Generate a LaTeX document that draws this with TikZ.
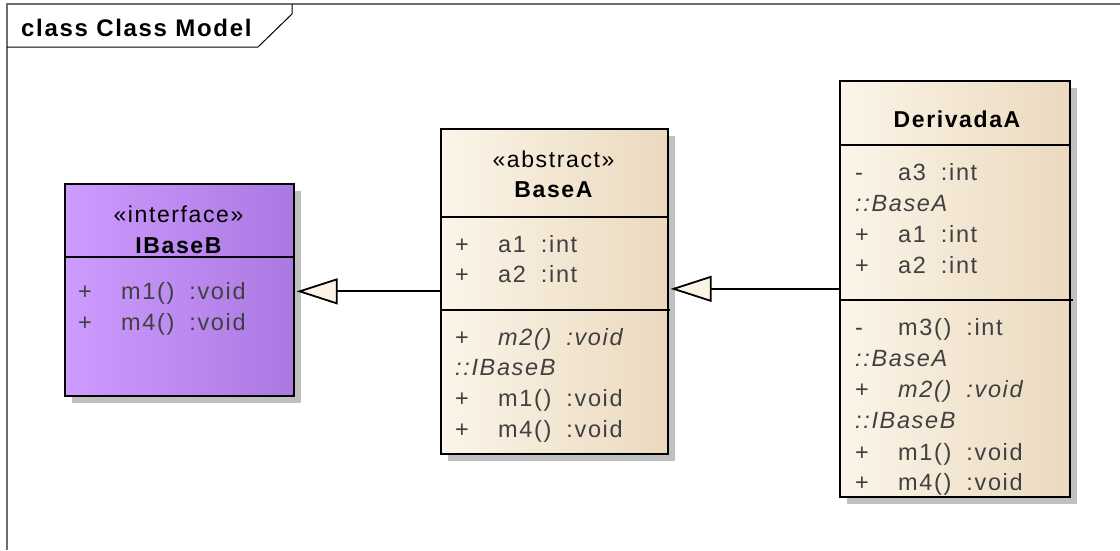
\documentclass[tikz,border=0pt]{standalone}
\usepackage{fontspec}
\setmainfont{Liberation Sans}[LetterSpace=7]
\usetikzlibrary{arrows.meta,shadows}

\definecolor{framegray}{RGB}{110,110,110}
\definecolor{shadowgray}{RGB}{192,192,192}
\definecolor{memgray}{RGB}{64,64,64}
\definecolor{violetL}{RGB}{206,156,255}
\definecolor{violetR}{RGB}{170,120,225}
\definecolor{creamL}{RGB}{252,245,233}
\definecolor{creamR}{RGB}{234,217,190}
\definecolor{tipfill}{RGB}{251,243,230}

\tikzset{
  umlclass/.style={draw=black, line width=1.7pt, inner sep=0pt, anchor=north west,
    drop shadow={shadow xshift=7pt, shadow yshift=-7pt, fill=shadowgray, opacity=1}},
  ifacebox/.style={umlclass, left color=violetL, middle color=violetL!85!violetR, right color=violetR},
  classbox/.style={umlclass, left color=creamL, middle color=creamL!80!creamR, right color=creamR},
  compline/.style={draw=black, line width=1.7pt},
  stereo/.style={anchor=base, inner sep=0pt, text=black, font=\fontsize{23}{23}\selectfont},
  cname/.style={anchor=base, inner sep=0pt, text=black, font=\fontsize{23}{23}\selectfont\bfseries},
  member/.style={anchor=base west, inner sep=0pt, text=memgray, font=\fontsize{23.5}{23.5}\selectfont},
  generalization/.style={draw=black, line width=1.8pt,
    -{Triangle[open, fill=tipfill, length=41pt, width=26pt]}, shorten >=2pt},
}
% visibility mark followed by the member text
\newcommand\umlmem[2]{\makebox[43pt][l]{#1}#2}

\begin{document}
\begin{tikzpicture}[x=1pt, y=-1pt]
\useasboundingbox (0,0) rectangle (1120,550);

% diagram frame and its name tab
\draw[framegray, line width=1.6pt] (7,550) -- (7,4) -- (1120,4);
\draw[black, line width=1pt] (7,47) -- (258,47) -- (292,14) -- (292,4);
\node[anchor=base west, inner sep=0pt, font=\fontsize{24}{24}\selectfont\bfseries] (frametitle) at (21,36) {class Class Model};

% ---- IBaseB ----
\node[ifacebox, minimum width=229pt, minimum height=212pt] (ibase) at (64,183) {};
\draw[compline] (64,257) -- (293,257);
\node[stereo] (ibaseSt) at (178.5,222) {«interface»};
\node[cname]  (ibaseNm) at (178.5,253) {IBaseB};
\node[member] (ibM1) at (78,299) {\umlmem{+}{m1()\hspace{15pt}:void}};
\node[member] (ibM4) at (78,330) {\umlmem{+}{m4()\hspace{15pt}:void}};

% ---- BaseA ----
\node[classbox, minimum width=227pt, minimum height=325pt] (basea) at (440,128) {};
\draw[compline] (440,217) -- (667,217);
\draw[compline] (440,310) -- (670,310);
\node[stereo] (baseaSt) at (553.5,167) {«abstract»};
\node[cname]  (baseaNm) at (553.5,197) {BaseA};
\node[member] (baA1) at (455,252) {\umlmem{+}{a1\hspace{15pt}:int}};
\node[member] (baA2) at (455,282) {\umlmem{+}{a2\hspace{15pt}:int}};
\node[member] (baM2) at (455,345) {\umlmem{+}{\itshape m2()\hspace{15pt}:void}};
\node[member] (baO1) at (455,375) {\itshape ::IBaseB};
\node[member] (baM1) at (455,406) {\umlmem{+}{m1()\hspace{15pt}:void}};
\node[member] (baM4) at (455,437) {\umlmem{+}{m4()\hspace{15pt}:void}};

% ---- DerivadaA ----
\node[classbox, minimum width=230pt, minimum height=416pt] (deriv) at (839,80) {};
\draw[compline] (839,145) -- (1069,145);
\draw[compline] (839,300) -- (1073,300);
\node[cname]  (derivNm) at (957,127) {DerivadaA};
\node[member] (dA3) at (855,180) {\umlmem{-}{a3\hspace{15pt}:int}};
\node[member] (dO1) at (855,211) {\itshape ::BaseA};
\node[member] (dA1) at (855,242) {\umlmem{+}{a1\hspace{15pt}:int}};
\node[member] (dA2) at (855,273) {\umlmem{+}{a2\hspace{15pt}:int}};
\node[member] (dM3) at (855,335) {\umlmem{-}{m3()\hspace{15pt}:int}};
\node[member] (dO2) at (855,366) {\itshape ::BaseA};
\node[member] (dM2) at (855,397) {\umlmem{+}{\itshape m2()\hspace{15pt}:void}};
\node[member] (dO3) at (855,428) {\itshape ::IBaseB};
\node[member] (dM1) at (855,460) {\umlmem{+}{m1()\hspace{15pt}:void}};
\node[member] (dM4) at (855,490) {\umlmem{+}{m4()\hspace{15pt}:void}};

% ---- generalizations ----
\draw[generalization] (basea.west) -- (basea.west -| ibase.east);
\draw[generalization] (deriv.west) -- (deriv.west -| basea.east);
\end{tikzpicture}
\end{document}
